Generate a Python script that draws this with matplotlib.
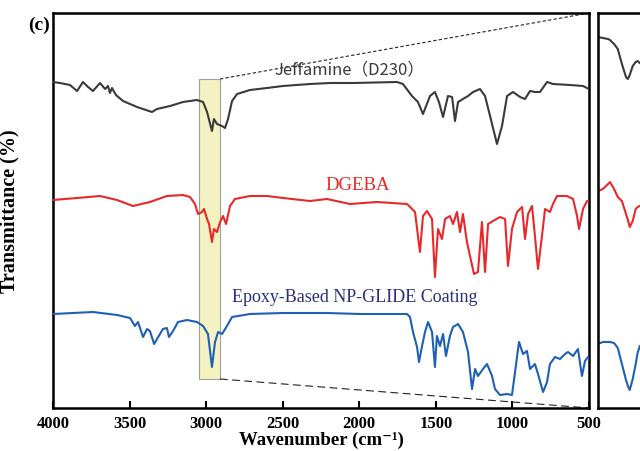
import numpy as np
import matplotlib.pyplot as plt

# FTIR spectra (wavenumber cm-1, transmittance a.u.)
jeff_wn = [4000, 3954, 3889, 3843, 3804, 3771, 3739, 3693, 3660, 3641, 3628, 3615, 3589,
           3543, 3451, 3354, 3321, 3236, 3151, 3060, 3020, 2994, 2962, 2949, 2929, 2896,
           2877, 2857, 2831, 2798, 2714, 2603, 2498, 2322, 2191, 2041, 1754, 1715, 1656,
           1617, 1584, 1538, 1506, 1480, 1453, 1421, 1394, 1375, 1355, 1323, 1290, 1257,
           1212, 1179, 1146, 1101, 1068, 1035, 996, 950, 918, 885, 853, 820, 774, 735,
           624, 539, 500]
jeff_t = [326, 325, 323, 317, 326, 321, 317, 325, 319, 322, 315, 320, 313,
          307, 301, 296, 299, 302, 306, 308, 306, 296, 277, 289, 284, 282,
          280, 289, 307, 314, 318, 320, 322, 324, 325, 325, 326, 324, 312,
          306, 294, 312, 316, 306, 291, 312, 311, 287, 306, 309, 312, 316,
          319, 312, 292, 264, 282, 312, 316, 311, 309, 317, 316, 316, 326, 324,
          323, 322, 319]

dgeba_wn = [4000, 3843, 3693, 3582, 3478, 3367, 3256, 3151, 3105, 3073, 3053, 3027, 3014,
            2994, 2981, 2962, 2949, 2929, 2909, 2890, 2870, 2844, 2812, 2714, 2603, 2498,
            2322, 2211, 2061, 1884, 1688, 1636, 1604, 1584, 1558, 1525, 1506, 1486, 1460,
            1440, 1408, 1388, 1362, 1342, 1323, 1297, 1277, 1251, 1225, 1199, 1179, 1159,
            1127, 1081, 1048, 1029, 1003, 970, 937, 918, 898, 872, 853, 833, 807, 787,
            755, 735, 709, 644, 604, 578, 565, 539, 513, 500]
dgeba_t = [208, 210, 212, 208, 202, 206, 212, 213, 211, 204, 194, 196, 199,
           189, 184, 166, 179, 176, 186, 192, 184, 202, 209, 212, 212, 210,
           207, 209, 204, 206, 204, 196, 156, 192, 197, 189, 131, 179, 169,
           189, 192, 184, 196, 176, 194, 166, 152, 134, 136, 186, 136, 184,
           187, 191, 189, 142, 179, 196, 201, 169, 194, 202, 172, 139, 172, 199,
           196, 204, 212, 212, 209, 192, 179, 199, 207, 207]

coat_wn = [4000, 3739, 3582, 3497, 3465, 3445, 3412, 3386, 3367, 3340, 3321, 3282, 3256,
           3243, 3216, 3184, 3125, 3060, 3020, 2988, 2962, 2942, 2922, 2896, 2864, 2831,
           2714, 2498, 2211, 1995, 1688, 1669, 1649, 1623, 1610, 1590, 1571, 1551, 1525,
           1506, 1493, 1473, 1453, 1434, 1408, 1388, 1355, 1323, 1290, 1264, 1244, 1225,
           1192, 1166, 1133, 1114, 1081, 1035, 1003, 983, 957, 931, 905, 885, 853, 833,
           800, 774, 755, 722, 689, 657, 637, 604, 572, 546, 526, 507, 500]
coat_t = [94, 96, 93, 90, 82, 86, 71, 79, 77, 64, 69, 79, 80,
          71, 77, 86, 88, 86, 82, 74, 41, 66, 76, 74, 82, 91,
          94, 95, 95, 94, 94, 91, 76, 61, 46, 62, 76, 86, 76,
          41, 72, 62, 74, 52, 72, 81, 84, 76, 56, 19, 39, 32,
          39, 44, 32, 19, 13, 14, 13, 36, 66, 54, 57, 39, 44, 34,
          16, 26, 44, 51, 49, 54, 56, 52, 59, 32, 47, 51, 49]

# enlarged C-H stretch region shown in the side panel
zoom_wn = [3050, 3037, 3023, 3018, 3007, 2997, 2986, 2975, 2970, 2965, 2957, 2949, 2944,
           2938, 2928]
zoom_jeff = [371, 370, 369, 368, 364, 359, 344, 331, 329, 333, 342, 346, 347, 345, 343]
zoom_dgeba = [217, 219, 224, 226, 219, 211, 207, 194, 188, 181, 187, 199, 201, 202, 201]
zoom_coat = [64, 66, 66, 66, 65, 60, 44, 28, 22, 18, 29, 44, 55, 62, 64]

x_ticks = [4000, 3500, 3000, 2500, 2000, 1500, 1000, 500]
band_lo, band_hi = 3047, 2910

c_jeff = '#3a3a3a'
c_dgeba = '#e8282a'
c_coat = '#1f5fb5'
serif = 'Liberation Serif'

fig = plt.figure(figsize=(6.4, 4.52), dpi=100)
ax = fig.add_axes([53 / 640, 1 - 409 / 452, 536 / 640, 395 / 452])

ax.axvspan(band_lo, band_hi, ymin=29 / 395, ymax=329 / 395, facecolor='#f4f2c0',
           edgecolor='#a0a0a0', lw=0.8, zorder=1)
ax.plot(jeff_wn, jeff_t, color=c_jeff, lw=1.5, zorder=3)
ax.plot(dgeba_wn, dgeba_t, color=c_dgeba, lw=1.5, zorder=3)
ax.plot(coat_wn, coat_t, color=c_coat, lw=1.5, zorder=3)

# guide lines from the highlighted band to the side panel
ax.plot([band_hi, 500], [329, 395], color='#222222', lw=0.8, ls=(0, (3, 2)), clip_on=False)
ax.plot([band_hi, 500], [29, 0], color='#222222', lw=0.8, ls=(0, (7, 4)), clip_on=False)

ax.set_xlim(4000, 500)
ax.set_ylim(0, 395)
ax.set_xticks(x_ticks)
ax.set_xticklabels([str(t) for t in x_ticks], fontfamily=serif, fontweight='bold', fontsize=12)
ax.set_yticks([])
ax.tick_params(axis='x', direction='in', length=5, width=1.5, pad=5)
for s in ax.spines.values():
    s.set_linewidth(1.8)

ax.set_xlabel('Wavenumber (cm⁻¹)', fontfamily=[serif, 'DejaVu Serif'], fontweight='bold',
              fontsize=13.5)
ax.xaxis.set_label_coords(0.5, -0.058)
ax.set_ylabel('Transmittance (%)', fontfamily=serif, fontweight='bold', fontsize=14.5)
ax.yaxis.set_label_coords(-0.062, 0.5)

ax.text(2067, 339, 'Jeffamine（D230）', color=c_jeff, fontsize=12,
        fontfamily=['Noto Sans CJK SC', 'DejaVu Sans'], ha='center', va='center')
ax.text(2008, 224, 'DGEBA', color=c_dgeba, fontsize=13.5, fontfamily=serif,
        ha='center', va='center')
ax.text(2028, 111, 'Epoxy-Based NP-GLIDE Coating', color='#2b2f7f', fontsize=13,
        fontfamily=serif, ha='center', va='center')
fig.text(39 / 640, 1 - 25 / 452, '(c)', fontfamily=serif, fontweight='bold', fontsize=14,
         ha='center', va='center')

# side panel (cut by the figure edge)
ax2 = fig.add_axes([598 / 640, 1 - 409 / 452, 56 / 640, 395 / 452])
ax2.plot(zoom_wn, zoom_jeff, color=c_jeff, lw=1.5)
ax2.plot(zoom_wn, zoom_dgeba, color=c_dgeba, lw=1.5)
ax2.plot(zoom_wn, zoom_coat, color=c_coat, lw=1.5)
ax2.set_xlim(3050, 2900)
ax2.set_ylim(0, 395)
ax2.set_xticks([])
ax2.set_yticks([])
for s in ax2.spines.values():
    s.set_linewidth(1.8)

fig.savefig('out.png', dpi=100)
